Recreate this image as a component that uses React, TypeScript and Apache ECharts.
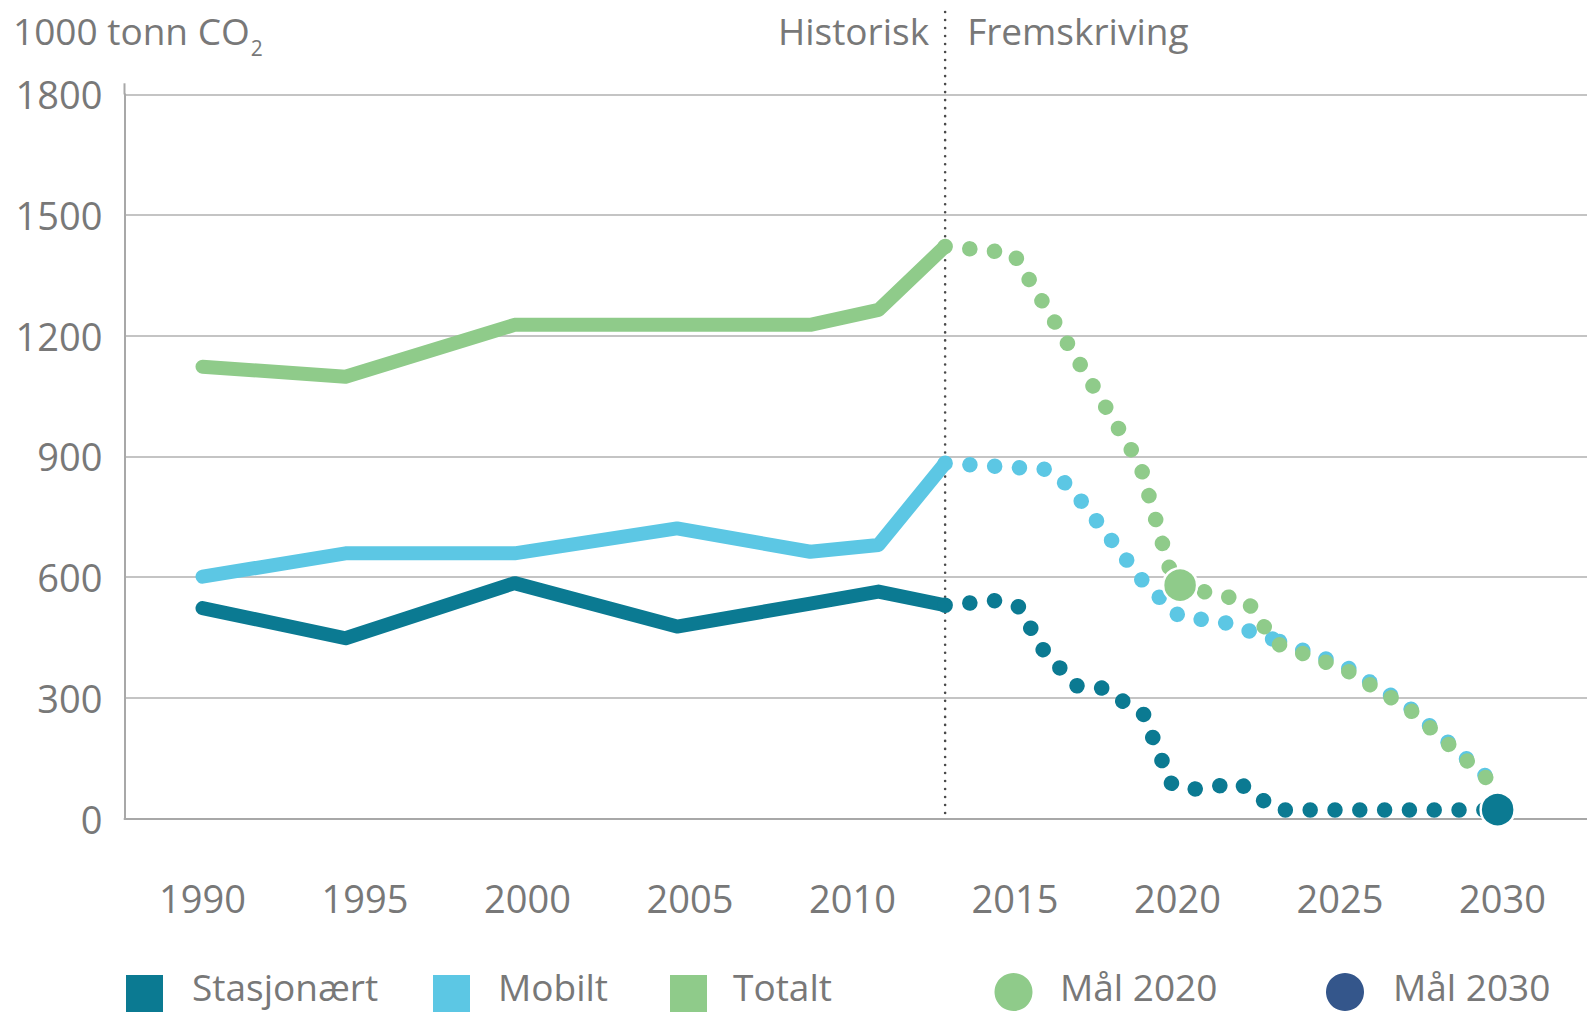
import React, { useEffect, useRef } from 'react';
import * as echarts from 'echarts';

// ---- data ----
const histYears = [1990, 1994.4, 1999.6, 2004.6, 2008.7, 2010.8, 2012.85];
const histStasjonaert = [523, 448, 585, 477, 534, 564, 530];
const histMobilt = [601, 659, 659, 721, 663, 680, 883];
const histTotalt = [1123, 1098, 1227, 1227, 1227, 1264, 1422];

const projStasjYears = [2012.85, 2014.45, 2015.1, 2015.9, 2016.9, 2017.65, 2018.95, 2019.8, 2020.4, 2021.15, 2021.9, 2023.05, 2029.85];
const projStasj = [530, 542, 527, 415, 330, 325, 260, 88, 72, 80, 88, 21, 21];

// Mobilt projection, split where it merges with Totalt (2023)
const projMobiltYearsA = [2012.85, 2015.95, 2016.6, 2017.1, 2019.0, 2020.05, 2021.5, 2023.0];
const projMobiltA = [883, 868, 830, 783, 583, 503, 486, 444];
const projMobiltYearsB = [2023.0, 2025.15, 2027.1, 2030];
const projMobiltB = [444, 379, 278, 68];

// Totalt projection, split at 2023
const projTotaltYearsA = [2012.85, 2014.95, 2018.85, 2019.9, 2022.15, 2023.0];
const projTotaltA = [1422, 1405, 880, 580, 540, 436];
const projTotaltYearsB = [2023.0, 2025.15, 2027.1, 2030];
const projTotaltB = [436, 371, 274, 65];

const maal2020 = [[2020.08, 580]];
const maal2030 = [[2029.85, 22]];

const splitYear = 2012.85;
const xLabelYears = [1990, 1995, 2000, 2005, 2010, 2015, 2020, 2025, 2030];
const legendNames = ['Stasjonært', 'Mobilt', 'Totalt', 'Mål 2020', 'Mål 2030'];

const C_DARK = '#0b7a92';
const C_BLUE = '#5cc7e4';
const C_GREEN = '#8fcb8a';
const C_NAVY = '#34568b';
const C_TEXT = '#787878';
const FONT = '"Open Sans", "Noto Sans", sans-serif';
const DOT_GAP = 24.8;

const pairs = (xs: number[], ys: number[]) => xs.map((x, i) => [x, ys[i]]);

const solid = (name: string, color: string, data: number[][]) => ({
  name,
  type: 'line',
  data,
  showSymbol: false,
  symbol: 'none',
  lineStyle: { color, width: 14, cap: 'round', join: 'round' },
  itemStyle: { color },
  z: 2,
});

const dotted = (name: string, color: string, data: number[][], offset = 0) => ({
  name,
  type: 'line',
  data,
  showSymbol: false,
  symbol: 'none',
  lineStyle: { color, width: 15.5, cap: 'round', join: 'round', type: [0.01, DOT_GAP], dashOffset: offset },
  itemStyle: { color },
  z: 2,
});

export default function App() {
  const ref = useRef<HTMLDivElement>(null);
  useEffect(() => {
    if (!ref.current) return;
    const chart = echarts.init(ref.current, undefined, { renderer: 'svg' });
    const buildSeries = (offGreenB: number) => [
      solid('Mobilt', C_BLUE, pairs(histYears, histMobilt)),
      dotted('Mobilt', C_BLUE, pairs(projMobiltYearsA, projMobiltA)),
      dotted('Mobilt', C_BLUE, pairs(projMobiltYearsB, projMobiltB), offGreenB),
      solid('Stasjonært', C_DARK, pairs(histYears, histStasjonaert)),
      dotted('Stasjonært', C_DARK, pairs(projStasjYears, projStasj)),
      solid('Totalt', C_GREEN, pairs(histYears, histTotalt)),
      dotted('Totalt', C_GREEN, pairs(projTotaltYearsA, projTotaltA)),
      dotted('Totalt', C_GREEN, pairs(projTotaltYearsB, projTotaltB), offGreenB),
      {
        name: 'Mål 2020',
        type: 'scatter',
        data: maal2020,
        symbol: 'circle',
        symbolSize: 34,
        itemStyle: { color: C_GREEN, borderColor: '#ffffff', borderWidth: 2.5, opacity: 1 },
        z: 5,
      },
      {
        name: 'Mål 2030',
        type: 'scatter',
        data: maal2030,
        symbol: 'circle',
        symbolSize: 34,
        itemStyle: { color: C_DARK, borderColor: '#ffffff', borderWidth: 2.5, opacity: 1 },
        z: 6,
      },
    ];
    const option: any = {
      animation: false,
      backgroundColor: '#ffffff',
      grid: { left: 124.5, right: 0, top: 94.3, bottom: 193.5, containLabel: false },
      xAxis: {
        type: 'value',
        min: 1987.6,
        max: 2032.6,
        splitNumber: 9,
        minInterval: 5,
        maxInterval: 5,
        axisLine: { show: true, lineStyle: { color: '#a8a8a8', width: 2 } },
        axisTick: { show: false },
        splitLine: { show: false },
        axisLabel: {
          margin: 60,
          fontSize: 38,
          fontFamily: FONT,
          color: C_TEXT,
          showMinLabel: false,
          showMaxLabel: false,
          formatter: (v: number) => (xLabelYears.indexOf(Math.round(v * 100) / 100) >= 0 ? String(Math.round(v)) : ''),
        },
      },
      yAxis: {
        type: 'value',
        min: 0,
        max: 1800,
        interval: 300,
        axisLine: { show: true, lineStyle: { color: '#a8a8a8', width: 2 } },
        axisTick: { show: false },
        splitLine: { show: true, lineStyle: { color: '#c4c4c4', width: 2 } },
        axisLabel: { margin: 22, fontSize: 38, fontFamily: FONT, color: C_TEXT, formatter: (v: number) => String(v) },
      },
      series: buildSeries(0),
    };
    chart.setOption(option);

    // continue Totalt's dot rhythm into its second part, and align Mobilt's dots under it
    const pathLen = (xs: number[], ys: number[]) => {
      let L = 0;
      for (let i = 1; i < xs.length; i++) {
        const a = chart.convertToPixel('grid', [xs[i - 1], ys[i - 1]]) as number[];
        const b = chart.convertToPixel('grid', [xs[i], ys[i]]) as number[];
        L += Math.hypot(b[0] - a[0], b[1] - a[1]);
      }
      return L;
    };
    const offGreenB = pathLen(projTotaltYearsA, projTotaltA) % DOT_GAP;
    chart.setOption({ series: buildSeries(offGreenB) });

    const sx = chart.convertToPixel({ xAxisIndex: 0 }, splitYear) as number;
    const yTop = chart.convertToPixel({ yAxisIndex: 0 }, 1800) as number;
    const yZero = chart.convertToPixel({ yAxisIndex: 0 }, 0) as number;
    const axisX = chart.convertToPixel({ xAxisIndex: 0 }, 1987.6) as number;

    const txt = (text: string, x: number, y: number, align: string, size = 37) => ({
      type: 'text',
      z: 10,
      style: {
        text,
        x,
        y,
        fill: C_TEXT,
        fontSize: size,
        fontFamily: FONT,
        lineHeight: size,
        align,
        textAlign: align,
        verticalAlign: 'middle',
        textVerticalAlign: 'middle',
      },
    });

    const legendY = 986;
    const graphic: any[] = [
      { type: 'line', z: 1, shape: { x1: axisX, y1: yTop - 11, x2: axisX, y2: yTop }, style: { stroke: '#a8a8a8', lineWidth: 2 } },
      { type: 'line', z: 1, shape: { x1: sx, y1: 12, x2: sx, y2: yZero - 3 }, style: { stroke: '#4a4a4a', lineWidth: 2.6, lineDash: [0.01, 8], lineCap: 'round' } },
      txt('Historisk', sx - 16, 30, 'right'),
      txt('Fremskriving', sx + 22, 30, 'left'),
      {
        type: 'text',
        z: 10,
        style: {
          text: '{a|1000 tonn CO}{b|2}',
          x: 13,
          y: 2,
          fill: C_TEXT,
          align: 'left',
          textAlign: 'left',
          verticalAlign: 'top',
          textVerticalAlign: 'top',
          rich: {
            a: { fontSize: 37, fontFamily: FONT, fill: C_TEXT, color: C_TEXT, lineHeight: 56, verticalAlign: 'middle' },
            b: { fontSize: 21, fontFamily: FONT, fill: C_TEXT, color: C_TEXT, lineHeight: 21, verticalAlign: 'bottom', padding: [0, 0, 0, 1] },
          },
        },
      },
      // legend
      { type: 'rect', z: 10, shape: { x: 126, y: 975, width: 37, height: 37 }, style: { fill: C_DARK } },
      txt(legendNames[0], 192, legendY, 'left', 37),
      { type: 'rect', z: 10, shape: { x: 433, y: 975, width: 37, height: 37 }, style: { fill: C_BLUE } },
      txt(legendNames[1], 498, legendY, 'left', 37),
      { type: 'rect', z: 10, shape: { x: 670, y: 975, width: 37, height: 37 }, style: { fill: C_GREEN } },
      txt(legendNames[2], 733, legendY, 'left', 37),
      { type: 'circle', z: 10, shape: { cx: 1013.5, cy: 992, r: 19 }, style: { fill: C_GREEN } },
      txt(legendNames[3], 1060, legendY, 'left', 37),
      { type: 'circle', z: 10, shape: { cx: 1345, cy: 992, r: 19 }, style: { fill: C_NAVY } },
      txt(legendNames[4], 1393, legendY, 'left', 37),
    ];
    chart.setOption({ graphic });

    return () => chart.dispose();
  }, []);
  return <div ref={ref} style={{ position: 'fixed', left: 0, top: 0, width: 1587, height: 1012 }} />;
}
